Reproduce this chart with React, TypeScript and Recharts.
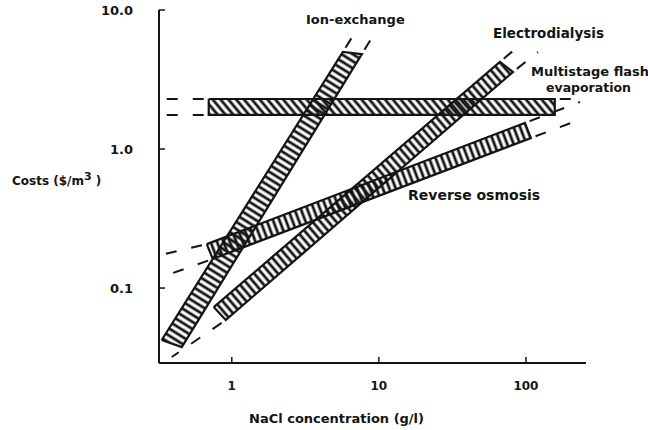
import React from "react";
import { ScatterChart, Scatter, XAxis, YAxis } from "recharts";

const INK = "#141414";
const FONT = "'DejaVu Sans', Verdana, sans-serif";

// x = NaCl concentration (g/l), y = cost ($/m3); band corners
const ionExchangeBand = [
  { x: 0.334, y: 0.0423 },
  { x: 5.69, y: 4.99 },
  { x: 7.66, y: 4.82 },
  { x: 0.457, y: 0.0376 },
  { x: 0.334, y: 0.0423 },
];

const electrodialysisBand = [
  { x: 0.754, y: 0.073 },
  { x: 66.5, y: 4.23 },
  { x: 81.6, y: 3.58 },
  { x: 0.91, y: 0.0589 },
  { x: 0.754, y: 0.073 },
];

const flashBand = [
  { x: 0.697, y: 2.29 },
  { x: 157, y: 2.29 },
  { x: 157, y: 1.76 },
  { x: 0.697, y: 1.76 },
  { x: 0.697, y: 2.29 },
];

const reverseOsmosisBand = [
  { x: 0.676, y: 0.207 },
  { x: 98.4, y: 1.54 },
  { x: 108, y: 1.2 },
  { x: 0.743, y: 0.162 },
  { x: 0.676, y: 0.207 },
];

// dashed extrapolations of the band edges
const ionTopLeftDash = [{ x: 5.69, y: 4.99 }, { x: 6.98, y: 7.06 }];
const ionTopRightDash = [{ x: 7.66, y: 4.82 }, { x: 9.55, y: 7.06 }];
const edTopLeftDash = [{ x: 66.5, y: 4.23 }, { x: 91, y: 5.6 }];
const edTopRightDash = [{ x: 81.6, y: 3.58 }, { x: 120.7, y: 4.99 }];
const edBottomDash = [{ x: 0.91, y: 0.0589 }, { x: 0.391, y: 0.0319 }];
const flashLeftTopDash = [{ x: 0.697, y: 2.29 }, { x: 0.34, y: 2.29 }];
const flashLeftBottomDash = [{ x: 0.697, y: 1.76 }, { x: 0.34, y: 1.76 }];
const flashRightTopDash = [{ x: 157, y: 2.29 }, { x: 248, y: 2.29 }];
const roLeftTopDash = [{ x: 0.676, y: 0.207 }, { x: 0.35, y: 0.1756 }];
const roLeftBottomDash = [{ x: 0.743, y: 0.162 }, { x: 0.379, y: 0.126 }];
const roRightTopDash = [{ x: 98.4, y: 1.54 }, { x: 233, y: 2.18 }];
const roRightBottomDash = [{ x: 108, y: 1.2 }, { x: 248, y: 1.67 }];

const xTicks = [1, 10, 100];
const yTicks = [0.1, 1, 10];
const yTickLabels = ["0.1", "1.0", "10.0"];

const bands = [
  { name: "Reverse osmosis", data: reverseOsmosisBand, hatch: "hatch-ro" },
  { name: "Multistage flash evaporation", data: flashBand, hatch: "hatch-flash" },
  { name: "Electrodialysis", data: electrodialysisBand, hatch: "hatch-ed" },
  { name: "Ion-exchange", data: ionExchangeBand, hatch: "hatch-ion" },
];

const dashes = [
  ionTopLeftDash,
  ionTopRightDash,
  edTopLeftDash,
  edTopRightDash,
  edBottomDash,
  flashLeftTopDash,
  flashLeftBottomDash,
  flashRightTopDash,
  roLeftTopDash,
  roLeftBottomDash,
  roRightTopDash,
  roRightBottomDash,
];

// hatch strokes run across each band
const hatches = [
  { id: "hatch-ion", angle: -58 },
  { id: "hatch-ed", angle: -40.6 },
  { id: "hatch-ro", angle: -20.8 },
  { id: "hatch-flash", angle: -40 },
];

const NoDot = () => <g />;

const labelStyle = { fill: INK, fontFamily: FONT, fontWeight: 700 };

export default function App() {
  return (
    <div style={{ position: "absolute", left: 0, top: 0, width: 648, height: 430, background: "#fff" }}>
      <svg width={0} height={0} style={{ position: "absolute" }}>
        <defs>
          {hatches.map((h) => (
            <pattern
              key={h.id}
              id={h.id}
              patternUnits="userSpaceOnUse"
              width={6}
              height={6}
              patternTransform={`rotate(${h.angle})`}
            >
              <line x1={3} y1={0} x2={3} y2={6} stroke={INK} strokeWidth={2.8} />
            </pattern>
          ))}
        </defs>
      </svg>
      <ScatterChart width={648} height={430} margin={{ top: 10, right: 62, bottom: 0, left: 0 }}>
        <XAxis
          dataKey="x"
          type="number"
          scale="log"
          domain={[0.32, 256]}
          allowDataOverflow
          ticks={xTicks}
          height={67}
          tickSize={-6}
          tickMargin={24}
          axisLine={{ stroke: INK, strokeWidth: 2 }}
          tickLine={{ stroke: INK, strokeWidth: 1.5 }}
          tick={{ ...labelStyle, fontSize: 12 }}
        />
        <YAxis
          dataKey="y"
          type="number"
          scale="log"
          domain={[0.0289, 10]}
          allowDataOverflow
          ticks={yTicks}
          tickFormatter={(v: number) => yTickLabels[yTicks.indexOf(v)] ?? String(v)}
          width={159}
          tickSize={-6}
          tickMargin={32}
          axisLine={{ stroke: INK, strokeWidth: 2 }}
          tickLine={{ stroke: INK, strokeWidth: 1.5 }}
          tick={{ ...labelStyle, fontSize: 13 }}
        />
        {dashes.map((d, i) => (
          <Scatter
            key={`dash-${i}`}
            data={d}
            line={{ stroke: INK, strokeWidth: 2, strokeDasharray: "0 5 11 10" }}
            lineType="joint"
            shape={NoDot}
            isAnimationActive={false}
          />
        ))}
        {bands.map((b) => (
          <Scatter
            key={b.name}
            name={b.name}
            data={b.data}
            line={{ fill: `url(#${b.hatch})`, stroke: INK, strokeWidth: 2.2 }}
            lineType="joint"
            shape={NoDot}
            isAnimationActive={false}
          />
        ))}
        <text x={306} y={24} fontSize={13} {...labelStyle}>Ion-exchange</text>
        <text x={493} y={38} fontSize={13.5} {...labelStyle}>Electrodialysis</text>
        <text x={531} y={76} fontSize={13} {...labelStyle}>Multistage flash</text>
        <text x={546} y={92} fontSize={12.5} {...labelStyle}>evaporation</text>
        <text x={408} y={200} fontSize={14} {...labelStyle}>Reverse osmosis</text>
        <text x={12} y={185} fontSize={12} {...labelStyle}>
          Costs ($/m<tspan dy={-5} fontSize={11}>3</tspan>
          <tspan dy={5}> )</tspan>
        </text>
        <text x={249} y={423} fontSize={13} {...labelStyle}>NaCl concentration (g/l)</text>
      </ScatterChart>
    </div>
  );
}
